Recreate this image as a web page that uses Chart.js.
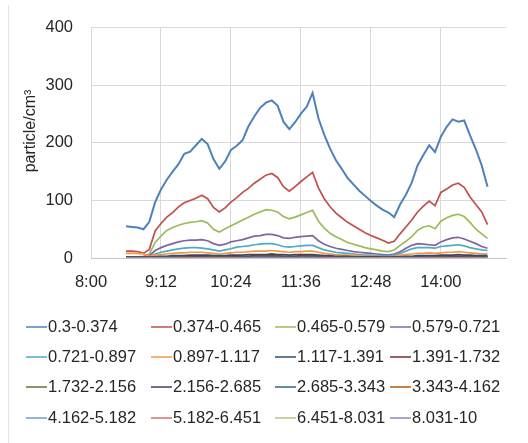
<!DOCTYPE html>
<html>
<head>
<meta charset="utf-8">
<script src="https://cdn.jsdelivr.net/npm/chart.js@4.4.1/dist/chart.umd.min.js"></script>
<style>
  html, body { margin: 0; padding: 0; background: #fff; }
  canvas { display: block; }
</style>
</head>
<body>
<canvas id="c" width="528" height="443"></canvas>
<script>
// Sample times, in minutes after 8:00
const minutes = [
  36, 42, 48, 54, 60, 66, 72, 78, 84,
  90, 96, 102, 108, 114, 120, 126, 132, 138,
  144, 150, 156, 162, 168, 174, 180, 186, 192,
  198, 204, 210, 216, 222, 228, 234, 240, 246,
  252, 258, 264, 270, 276, 282, 288, 294, 300,
  306, 312, 318, 324, 330, 336, 342, 348, 354,
  360, 366, 372, 378, 384, 390, 396, 402, 408
];

// Time axis ticks (minutes after 8:00) and their labels
const tickMinutes = [0, 72, 144, 216, 288, 360];
const tickLabels = ['8:00', '9:12', '10:24', '11:36', '12:48', '14:00'];
const axisEndMinutes = 427;

// Particle size bins (µm)
const sizeBins = [
  '0.3-0.374', '0.374-0.465', '0.465-0.579', '0.579-0.721',
  '0.721-0.897', '0.897-1.117', '1.117-1.391', '1.391-1.732',
  '1.732-2.156', '2.156-2.685', '2.685-3.343', '3.343-4.162',
  '4.162-5.182', '5.182-6.451', '6.451-8.031', '8.031-10'
];

const binColors = [
  '#4F81BD', '#C0504D', '#9BBB59', '#8064A2',
  '#4BACC6', '#F79646', '#2C4D75', '#772C2A',
  '#5F7530', '#4D3B62', '#276A7C', '#B65708',
  '#729ACA', '#CD7371', '#AFC97A', '#9983B5'
];

// Number concentrations per bin (particle/cm3)
const bin01 = [
  55, 54, 53, 50, 63, 97, 119, 136, 150,
  163, 181, 185, 196, 207, 198, 172, 155, 168,
  188, 195, 205, 229, 246, 261, 270, 274, 265,
  237, 224, 236, 251, 263, 287, 243, 214, 190,
  170, 155, 139, 128, 117, 108, 99, 91, 84,
  79, 71, 93, 110, 131, 161, 179, 196, 184,
  211, 228, 241, 237, 239, 213, 189, 161, 124
];
const bin02 = [
  12, 12, 11, 8, 15, 47, 60, 71, 79,
  89, 96, 100, 104, 109, 103, 88, 80, 87,
  97, 105, 114, 121, 130, 137, 144, 147, 140,
  124, 116, 124, 133, 141, 149, 122, 103, 89,
  78, 70, 62, 56, 50, 44, 39, 35, 31,
  26, 29, 42, 54, 66, 80, 90, 99, 91,
  114, 120, 127, 130, 123, 106, 93, 80, 58
];
const bin03 = [
  2, 2, 2, 3, 7, 27, 38, 48, 53,
  57, 60, 62, 63, 65, 61, 50, 45, 51,
  56, 61, 66, 71, 76, 80, 84, 83, 80,
  72, 68, 71, 75, 79, 83, 64, 52, 43,
  37, 32, 27, 24, 21, 18, 16, 14, 12,
  11, 14, 22, 29, 37, 48, 54, 56, 51,
  64, 70, 74, 76, 72, 62, 50, 42, 34
];
const bin04 = [
  2, 2, 2, 2, 4, 13, 18, 22, 25,
  28, 30, 31, 31, 32, 30, 25, 22, 24,
  28, 30, 32, 35, 38, 39, 41, 41, 39,
  35, 34, 36, 37, 38, 39, 30, 24, 20,
  17, 15, 13, 11, 10, 9, 8, 7, 6,
  5, 7, 11, 17, 22, 25, 24, 23, 22,
  28, 32, 35, 36, 33, 29, 25, 20, 17
];
const bin05 = [
  1, 1, 1, 1, 2, 7, 10, 12, 14,
  16, 17, 18, 18, 17, 16, 14, 12, 14,
  16, 19, 20, 21, 23, 24, 25, 25, 23,
  20, 19, 20, 21, 22, 22, 18, 14, 12,
  10, 9, 8, 7, 6, 5, 5, 4, 4,
  3, 5, 8, 12, 16, 18, 18, 18, 17,
  20, 21, 22, 23, 21, 18, 16, 14, 13
];
const bin06 = [
  8, 8, 8, 7, 3, 5, 6, 7, 8,
  9, 9, 10, 10, 10, 9, 8, 7, 8,
  9, 10, 10, 11, 12, 12, 12, 13, 12,
  11, 10, 11, 11, 12, 12, 10, 8, 7,
  6, 5, 5, 4, 4, 3, 3, 3, 2,
  2, 3, 5, 6, 7, 8, 8, 9, 8,
  9, 10, 10, 11, 10, 9, 8, 7, 7
];
const bin07 = [
  2, 2, 2, 2, 1, 2, 3, 3, 4,
  4, 4, 5, 5, 5, 5, 4, 4, 4,
  5, 5, 5, 6, 6, 6, 6, 7, 6,
  6, 5, 6, 6, 6, 6, 5, 4, 4,
  3, 3, 3, 2, 2, 2, 2, 2, 1,
  1, 2, 2, 3, 3, 4, 4, 4, 4,
  5, 5, 5, 6, 5, 5, 4, 4, 4
];
const bin08 = [
  1, 1, 1, 1, 1, 1, 2, 2, 2,
  2, 3, 3, 3, 3, 3, 2, 2, 2,
  3, 3, 3, 3, 4, 4, 4, 4, 4,
  3, 3, 3, 4, 4, 4, 3, 3, 2,
  2, 2, 2, 1, 1, 1, 1, 1, 1,
  1, 1, 1, 2, 2, 2, 2, 3, 2,
  3, 3, 3, 3, 3, 3, 2, 2, 2
];
const bin09 = [
  1.2, 1.1, 1.2, 1.0, 0.8, 1.1, 1.4, 1.6, 1.8,
  1.9, 2.0, 2.1, 2.1, 2.2, 2.0, 1.8, 1.7, 1.8,
  2.0, 2.2, 2.3, 2.4, 2.6, 2.7, 2.8, 2.8, 2.7,
  2.5, 2.4, 2.5, 2.6, 2.7, 2.8, 2.3, 2.0, 1.7,
  1.5, 1.3, 1.2, 1.1, 1.0, 0.9, 0.8, 0.8, 0.7,
  0.7, 0.8, 1.0, 1.2, 1.4, 1.6, 1.7, 1.8, 1.7,
  1.9, 2.0, 2.1, 2.2, 2.1, 1.9, 1.7, 1.5, 1.4
];
const bin10 = [
  0.8, 0.8, 0.8, 0.7, 0.6, 0.7, 0.9, 1.0, 1.1,
  1.2, 1.3, 1.3, 1.4, 1.4, 1.3, 1.2, 1.1, 1.2,
  1.3, 1.4, 1.5, 1.6, 1.7, 1.7, 1.8, 1.8, 1.7,
  1.6, 1.5, 1.6, 1.7, 1.7, 1.8, 1.5, 1.3, 1.1,
  1.0, 0.9, 0.8, 0.7, 0.7, 0.6, 0.6, 0.5, 0.5,
  0.5, 0.6, 0.7, 0.8, 0.9, 1.0, 1.1, 1.2, 1.1,
  1.2, 1.3, 1.4, 1.4, 1.3, 1.2, 1.1, 1.0, 0.9
];
const bin11 = [
  0.5, 0.5, 0.5, 0.5, 0.4, 0.5, 0.6, 0.7, 0.7,
  0.8, 0.8, 0.9, 0.9, 0.9, 0.9, 0.8, 0.7, 0.8,
  0.9, 0.9, 1.0, 1.0, 1.1, 1.1, 1.2, 1.2, 1.1,
  1.0, 1.0, 1.0, 1.1, 1.1, 1.2, 1.0, 0.8, 0.7,
  0.6, 0.6, 0.5, 0.5, 0.4, 0.4, 0.4, 0.3, 0.3,
  0.3, 0.4, 0.5, 0.5, 0.6, 0.7, 0.7, 0.8, 0.7,
  0.8, 0.8, 0.9, 0.9, 0.9, 0.8, 0.7, 0.7, 0.6
];
const bin12 = [
  0.4, 0.4, 0.4, 0.3, 0.3, 0.3, 0.4, 0.4, 0.5,
  0.5, 0.5, 0.6, 0.6, 0.6, 0.5, 0.5, 0.5, 0.5,
  0.6, 0.6, 0.6, 0.7, 0.7, 0.7, 0.8, 0.8, 0.7,
  0.7, 0.6, 0.7, 0.7, 0.7, 0.8, 0.6, 0.5, 0.5,
  0.4, 0.4, 0.3, 0.3, 0.3, 0.3, 0.2, 0.2, 0.2,
  0.2, 0.3, 0.3, 0.4, 0.4, 0.4, 0.5, 0.5, 0.5,
  0.5, 0.5, 0.6, 0.6, 0.6, 0.5, 0.5, 0.4, 0.4
];
const bin13 = [
  0.3, 0.3, 0.3, 0.2, 0.2, 0.2, 0.3, 0.3, 0.3,
  0.3, 0.4, 0.4, 0.4, 0.4, 0.4, 0.3, 0.3, 0.3,
  0.4, 0.4, 0.4, 0.4, 0.5, 0.5, 0.5, 0.5, 0.5,
  0.4, 0.4, 0.4, 0.5, 0.5, 0.5, 0.4, 0.3, 0.3,
  0.3, 0.2, 0.2, 0.2, 0.2, 0.2, 0.2, 0.1, 0.1,
  0.1, 0.2, 0.2, 0.2, 0.3, 0.3, 0.3, 0.3, 0.3,
  0.4, 0.4, 0.4, 0.4, 0.4, 0.3, 0.3, 0.3, 0.3
];
const bin14 = [
  0.2, 0.2, 0.2, 0.2, 0.1, 0.2, 0.2, 0.2, 0.2,
  0.2, 0.2, 0.3, 0.3, 0.3, 0.2, 0.2, 0.2, 0.2,
  0.3, 0.3, 0.3, 0.3, 0.3, 0.3, 0.3, 0.3, 0.3,
  0.3, 0.3, 0.3, 0.3, 0.3, 0.3, 0.2, 0.2, 0.2,
  0.2, 0.2, 0.1, 0.1, 0.1, 0.1, 0.1, 0.1, 0.1,
  0.1, 0.1, 0.1, 0.2, 0.2, 0.2, 0.2, 0.2, 0.2,
  0.2, 0.2, 0.3, 0.3, 0.2, 0.2, 0.2, 0.2, 0.2
];
const bin15 = [
  0.1, 0.1, 0.1, 0.1, 0.1, 0.1, 0.1, 0.1, 0.2,
  0.2, 0.2, 0.2, 0.2, 0.2, 0.2, 0.1, 0.1, 0.2,
  0.2, 0.2, 0.2, 0.2, 0.2, 0.2, 0.2, 0.2, 0.2,
  0.2, 0.2, 0.2, 0.2, 0.2, 0.2, 0.2, 0.1, 0.1,
  0.1, 0.1, 0.1, 0.1, 0.1, 0.1, 0.1, 0.1, 0.1,
  0.1, 0.1, 0.1, 0.1, 0.1, 0.1, 0.2, 0.2, 0.1,
  0.2, 0.2, 0.2, 0.2, 0.2, 0.2, 0.1, 0.1, 0.1
];
const bin16 = [
  0.1, 0.1, 0.1, 0.1, 0.0, 0.1, 0.1, 0.1, 0.1,
  0.1, 0.1, 0.1, 0.1, 0.1, 0.1, 0.1, 0.1, 0.1,
  0.1, 0.1, 0.1, 0.1, 0.1, 0.1, 0.1, 0.1, 0.1,
  0.1, 0.1, 0.1, 0.1, 0.1, 0.1, 0.1, 0.1, 0.1,
  0.1, 0.1, 0.0, 0.0, 0.0, 0.0, 0.0, 0.0, 0.0,
  0.0, 0.0, 0.0, 0.1, 0.1, 0.1, 0.1, 0.1, 0.1,
  0.1, 0.1, 0.1, 0.1, 0.1, 0.1, 0.1, 0.1, 0.1
];

const binSeries = [
  bin01, bin02, bin03, bin04, bin05, bin06, bin07, bin08,
  bin09, bin10, bin11, bin12, bin13, bin14, bin15, bin16
];

const FONT = "'Liberation Sans', Arial, Helvetica, sans-serif";
const TEXT_COLOR = '#262626';
const GRID_COLOR = '#d9d9d9';

const datasets = binSeries.map((vals, i) => ({
  label: sizeBins[i],
  data: vals.map((v, k) => ({ x: minutes[k], y: v })),
  borderColor: binColors[i],
  backgroundColor: binColors[i],
  borderWidth: i === 0 ? 2 : 1.7,
  pointRadius: 0,
  tension: 0,
  fill: false,
  order: -i
}));

// Axis title and legend grid drawn below/left of the plot
const decorPlugin = {
  id: 'decor',
  beforeDraw(chart) {
    const ctx = chart.ctx;
    ctx.save();
    ctx.fillStyle = '#ffffff';
    ctx.fillRect(0, 0, chart.width, chart.height);
    ctx.strokeStyle = '#e3e3e3';
    ctx.lineWidth = 1;
    ctx.beginPath();
    ctx.moveTo(8.5, 5);
    ctx.lineTo(8.5, chart.height);
    ctx.stroke();
    ctx.restore();
  },
  afterDraw(chart) {
    const ctx = chart.ctx;
    ctx.save();
    // y axis title
    ctx.translate(31, 131);
    ctx.rotate(-Math.PI / 2);
    ctx.font = '16px ' + FONT;
    ctx.fillStyle = TEXT_COLOR;
    ctx.textAlign = 'center';
    ctx.textBaseline = 'middle';
    ctx.fillText('particle/cm³', 0, 0);
    ctx.restore();

    // legend: four columns
    const colText = [48, 173, 297, 412];
    const rowY = [327, 357, 387, 418];
    ctx.save();
    ctx.font = '16.5px ' + FONT;
    ctx.textBaseline = 'middle';
    ctx.textAlign = 'left';
    chart.data.datasets.forEach((ds, i) => {
      const tx = colText[i % 4];
      const ty = rowY[Math.floor(i / 4)];
      ctx.strokeStyle = ds.borderColor;
      ctx.lineWidth = 1.5;
      ctx.beginPath();
      ctx.moveTo(tx - 22, ty);
      ctx.lineTo(tx - 1, ty);
      ctx.stroke();
      ctx.fillStyle = TEXT_COLOR;
      ctx.fillText(ds.label, tx, ty);
    });
    ctx.restore();
  }
};

new Chart(document.getElementById('c'), {
  type: 'line',
  data: { datasets },
  plugins: [decorPlugin],
  options: {
    responsive: false,
    animation: false,
    devicePixelRatio: 1,
    layout: { padding: { left: 0, right: 22, top: 23, bottom: 0 } },
    plugins: {
      legend: { display: false },
      tooltip: { enabled: false }
    },
    scales: {
      x: {
        type: 'linear',
        min: 0,
        max: axisEndMinutes,
        afterBuildTicks: (s) => { s.ticks = tickMinutes.map(v => ({ value: v })); },
        afterFit: (s) => { s.height = 185; },
        grid: { color: GRID_COLOR, drawTicks: false },
        border: { color: '#c6c6c6' },
        ticks: {
          autoSkip: false,
          maxRotation: 0,
          padding: 15,
          color: TEXT_COLOR,
          font: { family: FONT, size: 16.5 },
          callback: (v) => {
            const k = tickMinutes.indexOf(v);
            return k >= 0 ? tickLabels[k] : '';
          }
        }
      },
      y: {
        min: 0,
        max: 400,
        afterFit: (s) => { s.width = 91; },
        grid: { color: GRID_COLOR, drawTicks: false },
        border: { display: false },
        ticks: {
          stepSize: 100,
          padding: 18,
          color: TEXT_COLOR,
          font: { family: FONT, size: 16.5 }
        }
      }
    }
  }
});
</script>
</body>
</html>
